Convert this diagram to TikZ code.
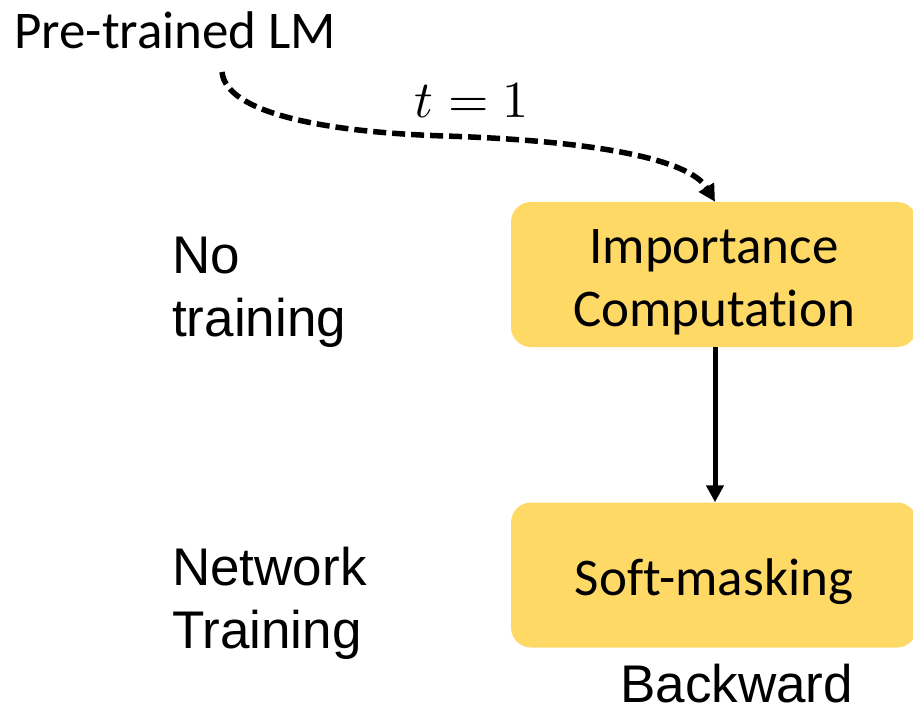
\documentclass[tikz,border=0pt]{standalone}
\usepackage{graphicx}
\usepackage{fontspec}
\setmainfont{Carlito}[Ligatures=NoCommon]
\newfontfamily\arialfont{Liberation Sans}
\usetikzlibrary{arrows.meta,positioning}
\definecolor{boxgold}{HTML}{FFD966}
\newcommand{\liftrule}{\rule{0pt}{50pt}}

\begin{document}
\begin{tikzpicture}[x=1pt, y=-1pt,
    block/.style={rectangle, fill=boxgold, rounded corners=20pt, minimum width=406pt, minimum height=145pt, align=center, inner sep=0pt, font=\fontsize{53}{63}\selectfont},
    side/.style={align=left, inner sep=0pt, anchor=base west, font=\arialfont\fontsize{53}{63}\selectfont},
    line/.style={draw, line width=5pt, -{Triangle[length=17pt,width=17pt]}}]
    \useasboundingbox (0,0) rectangle (913,711);

    \node [anchor=base west, inner sep=0pt, font=\fontsize{53}{63}\selectfont] (lm) at (14,49) {Pre-trained LM};
    \coordinate (src) at (222,72);

    \node [block] (imp) at (714,274.5) {\liftrule Importance\\Computation};
    \node [block] (soft) at (714,575) {\liftrule Soft-masking};

    \node [side] (notrain) at (172,337) {No\\training};
    \node [side] (nettrain) at (172,648) {Network\\Training};
    \node [side] (back) at (620,702) {Backward};

    % dashed input from the LM
    \path [line, line width=5.5pt, dash pattern=on 13pt off 6pt] (src) .. controls (226,112) and (320,132) .. (445,136)
        .. controls (600,141) and (690,160) .. ([xshift=1pt]imp.north);
    \node (tlabel) at (472,101) {\scalebox{5.2}{$t = 1$}};

    \path [line] ([xshift=1pt]imp.south) -- ([xshift=1pt]soft.north);
\end{tikzpicture}
\end{document}
